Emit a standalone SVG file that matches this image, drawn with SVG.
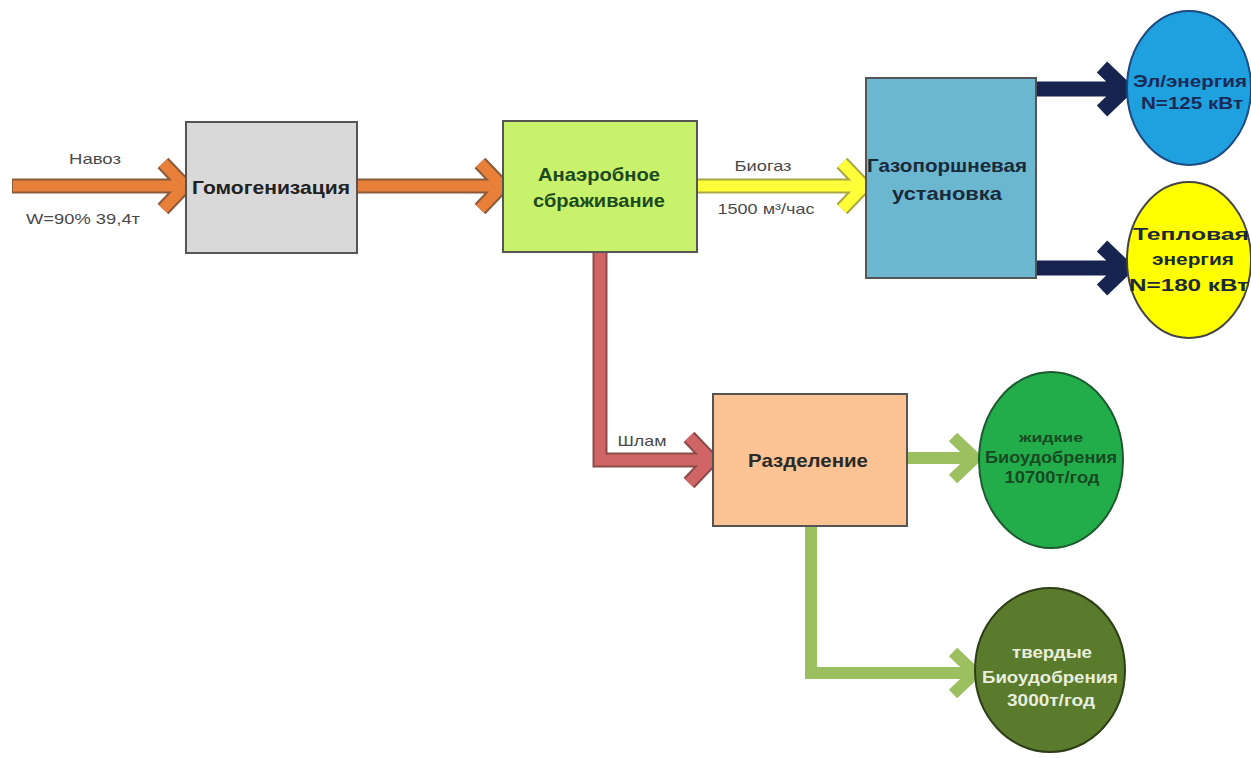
<svg xmlns="http://www.w3.org/2000/svg" width="1251" height="758" viewBox="0 0 1251 758">
<style>
.box{stroke:#555;stroke-width:2}
.t{font-family:"Liberation Sans",Arial,sans-serif;font-weight:bold;text-anchor:middle;dominant-baseline:central}
.l{font-family:"Liberation Sans",Arial,sans-serif;text-anchor:middle;dominant-baseline:central;fill:#4a4a4a;font-size:15px}
.o{fill:none;stroke-linejoin:miter;stroke-linecap:butt}
</style>
<rect width="1251" height="758" fill="#fff"/>
<g id="connectors">
  <g id="c-navoz">
    <path class="o" d="M12,186 H182 M163,163 L185,186 L163,209" stroke="#8a5a3a" stroke-width="15"/>
    <path class="o" d="M13,186 H181 M163,163 L185,186 L163,209" stroke="#e8803a" stroke-width="11"/>
  </g>
  <g id="c-homo-anaer">
    <path class="o" d="M357,186 H499 M480,163 L502,186 L480,209" stroke="#8a5a3a" stroke-width="15"/>
    <path class="o" d="M358,186 H498 M480,163 L502,186 L480,209" stroke="#e8803a" stroke-width="11"/>
  </g>
  <g id="c-biogas">
    <path class="o" d="M697,186 H860 M842,163 L864,186 L842,209" stroke="#a8a840" stroke-width="15"/>
    <path class="o" d="M698,186 H859 M842,163 L864,186 L842,209" stroke="#ffff3a" stroke-width="11"/>
  </g>
  <path id="c-el" class="o" d="M1036,89 H1123 M1102,67 L1125,89 L1102,111" stroke="#16244f" stroke-width="15"/>
  <path id="c-heat" class="o" d="M1036,268 H1123 M1102,246 L1125,268 L1102,290" stroke="#16244f" stroke-width="15"/>
  <g id="c-shlam">
    <path class="o" d="M600,252 V460 H709 M689,437 L711,460 L689,483" stroke="#8d4a4a" stroke-width="15"/>
    <path class="o" d="M600,253 V460 H708 M689,437 L711,460 L689,483" stroke="#d06565" stroke-width="11"/>
  </g>
  <path id="c-liquid" class="o" d="M907,458 H972 M953,437 L975,458 L953,479" stroke="#9cbf5f" stroke-width="12"/>
  <path id="c-solid" class="o" d="M811,526 V673 H972 M953,652 L975,673 L953,694" stroke="#9cbf5f" stroke-width="12"/>
  <text class="l" x="95" y="158" textLength="52" lengthAdjust="spacingAndGlyphs">Навоз</text>
  <text class="l" x="83" y="218" textLength="114" lengthAdjust="spacingAndGlyphs">W=90% 39,4т</text>
  <text class="l" x="763" y="165" textLength="57" lengthAdjust="spacingAndGlyphs">Биогаз</text>
  <text class="l" x="766" y="208" textLength="97" lengthAdjust="spacingAndGlyphs">1500 м³/час</text>
  <text class="l" x="642" y="440" textLength="49" lengthAdjust="spacingAndGlyphs">Шлам</text>
</g>
<g id="homo">
  <rect class="box" x="186" y="122" width="171" height="131" fill="#d9d9d9"/>
  <text class="t" x="271" y="187" font-size="19" fill="#222" textLength="158" lengthAdjust="spacingAndGlyphs">Гомогенизация</text>
</g>
<g id="anaer">
  <rect class="box" x="503" y="121" width="194" height="131" fill="#c8f26c" stroke="#5a7a3a"/>
  <text class="t" x="599" y="174" font-size="19" fill="#1d4a1d" textLength="122" lengthAdjust="spacingAndGlyphs">Анаэробное</text>
  <text class="t" x="599" y="200" font-size="19" fill="#1d4a1d" textLength="132" lengthAdjust="spacingAndGlyphs">сбраживание</text>
</g>
<g id="gpu">
  <rect class="box" x="866" y="78" width="170" height="200" fill="#6cb7d0" stroke="#2f5f78"/>
  <text class="t" x="947" y="165" font-size="19" fill="#1a2a3a" textLength="160" lengthAdjust="spacingAndGlyphs">Газопоршневая</text>
  <text class="t" x="947" y="193" font-size="19" fill="#1a2a3a" textLength="110" lengthAdjust="spacingAndGlyphs">установка</text>
</g>
<g id="el">
  <ellipse cx="1189" cy="88" rx="62" ry="77" fill="#1fa0df" stroke="#1a4a80" stroke-width="2"/>
  <text class="t" x="1190" y="81" font-size="17" fill="#1a2a55" textLength="114" lengthAdjust="spacingAndGlyphs">Эл/энергия</text>
  <text class="t" x="1192" y="103" font-size="17" fill="#1a2a55" textLength="102" lengthAdjust="spacingAndGlyphs">N=125 кВт</text>
</g>
<g id="heat">
  <ellipse cx="1189" cy="260" rx="62" ry="78" fill="#ffff00" stroke="#444" stroke-width="2"/>
  <text class="t" x="1191" y="234" font-size="17" fill="#1a2a3a" textLength="116" lengthAdjust="spacingAndGlyphs">Тепловая</text>
  <text class="t" x="1193" y="259" font-size="17" fill="#1a2a3a" textLength="82" lengthAdjust="spacingAndGlyphs">энергия</text>
  <text class="t" x="1189" y="285" font-size="17" fill="#1a2a3a" textLength="120" lengthAdjust="spacingAndGlyphs">N=180 кВт</text>
</g>
<g id="razd">
  <rect class="box" x="713" y="394" width="194" height="132" fill="#fbc393"/>
  <text class="t" x="808" y="460" font-size="19" fill="#2a2a2a" textLength="120" lengthAdjust="spacingAndGlyphs">Разделение</text>
</g>
<g id="liquid">
  <ellipse cx="1051" cy="460" rx="72" ry="88" fill="#23ad4a" stroke="#1d5a30" stroke-width="2"/>
  <text class="t" x="1051" y="437" font-size="13" fill="#174a22" textLength="64" lengthAdjust="spacingAndGlyphs">жидкие</text>
  <text class="t" x="1051" y="457" font-size="16" fill="#174a22" textLength="132" lengthAdjust="spacingAndGlyphs">Биоудобрения</text>
  <text class="t" x="1052" y="477" font-size="16" fill="#174a22" textLength="95" lengthAdjust="spacingAndGlyphs">10700т/год</text>
</g>
<g id="solid">
  <ellipse cx="1050" cy="670" rx="75" ry="82" fill="#5a7a2c" stroke="#2e3e18" stroke-width="2"/>
  <text class="t" x="1052" y="652" font-size="16" fill="#e8eedd" textLength="80" lengthAdjust="spacingAndGlyphs">твердые</text>
  <text class="t" x="1050" y="677" font-size="16" fill="#e8eedd" textLength="136" lengthAdjust="spacingAndGlyphs">Биоудобрения</text>
  <text class="t" x="1051" y="700" font-size="16" fill="#e8eedd" textLength="88" lengthAdjust="spacingAndGlyphs">3000т/год</text>
</g>
</svg>
